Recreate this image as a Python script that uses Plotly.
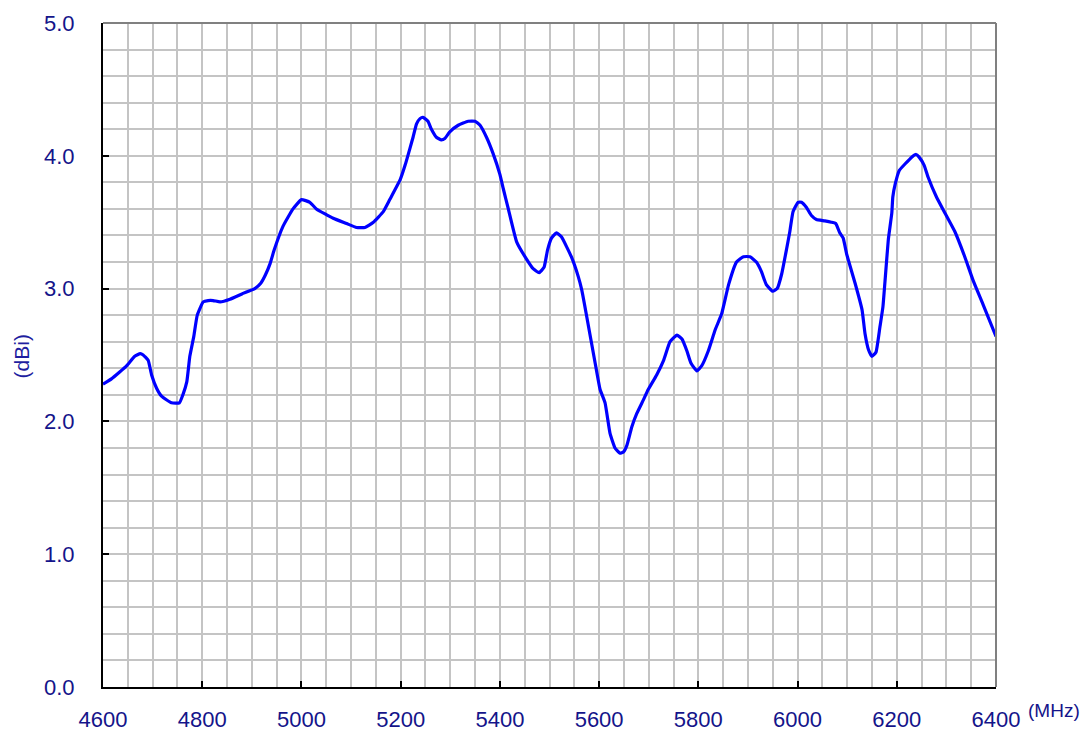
import plotly.graph_objects as go

freq_mhz = [4600, 4617, 4633, 4648, 4664, 4675, 4681, 4691, 4698, 4708, 4718, 4738, 4754, 4761,
            4769, 4775, 4783, 4790, 4802, 4812, 4822, 4836, 4856, 4880, 4906, 4918, 4927, 4937,
            4945, 4963, 4983, 5000, 5017, 5030, 5064, 5091, 5111, 5128, 5145, 5165, 5178, 5199,
            5209, 5219, 5225, 5232, 5239, 5245, 5255, 5262, 5272, 5282, 5289, 5299, 5316, 5336,
            5350, 5360, 5373, 5386, 5400, 5407, 5417, 5434, 5454, 5467, 5479, 5489, 5496, 5504,
            5514, 5524, 5544, 5558, 5565, 5575, 5592, 5602, 5612, 5622, 5632, 5642, 5649, 5656,
            5666, 5676, 5689, 5699, 5716, 5730, 5743, 5757, 5767, 5777, 5785, 5797, 5807, 5820,
            5834, 5847, 5861, 5877, 5891, 5904, 5917, 5927, 5937, 5950, 5959, 5968, 5978, 5984,
            5991, 6001, 6008, 6018, 6028, 6038, 6055, 6068, 6077, 6085, 6092, 6099, 6116, 6130,
            6136, 6143, 6150, 6158, 6166, 6172, 6177, 6183, 6190, 6192, 6197, 6205, 6217, 6230,
            6239, 6245, 6255, 6263, 6280, 6297, 6317, 6337, 6354, 6374, 6400]
gain_dbi = [2.28, 2.32, 2.37, 2.42, 2.49, 2.51, 2.50, 2.46, 2.35, 2.25, 2.19, 2.14, 2.14, 2.20,
            2.30, 2.49, 2.64, 2.80, 2.90, 2.91, 2.91, 2.90, 2.92, 2.96, 3.00, 3.04, 3.10, 3.19,
            3.29, 3.47, 3.60, 3.67, 3.65, 3.60, 3.53, 3.49, 3.46, 3.46, 3.50, 3.58, 3.67, 3.82,
            3.93, 4.06, 4.14, 4.24, 4.28, 4.29, 4.26, 4.20, 4.14, 4.12, 4.13, 4.18, 4.23, 4.26,
            4.26, 4.23, 4.14, 4.02, 3.86, 3.75, 3.60, 3.35, 3.22, 3.15, 3.12, 3.16, 3.29, 3.38,
            3.42, 3.39, 3.24, 3.09, 2.99, 2.79, 2.44, 2.24, 2.14, 1.91, 1.80, 1.76, 1.77, 1.82,
            1.96, 2.06, 2.16, 2.24, 2.35, 2.46, 2.60, 2.65, 2.62, 2.53, 2.44, 2.38, 2.42, 2.53,
            2.69, 2.81, 3.03, 3.20, 3.24, 3.24, 3.20, 3.13, 3.03, 2.98, 3.00, 3.11, 3.30, 3.42,
            3.58, 3.65, 3.65, 3.61, 3.55, 3.52, 3.51, 3.50, 3.49, 3.42, 3.38, 3.26, 3.04, 2.84,
            2.66, 2.54, 2.49, 2.52, 2.71, 2.86, 3.09, 3.37, 3.57, 3.69, 3.79, 3.89, 3.94, 3.99,
            4.01, 3.99, 3.93, 3.84, 3.69, 3.57, 3.43, 3.24, 3.06, 2.88, 2.64]

x_ticks = [4600, 4800, 5000, 5200, 5400, 5600, 5800, 6000, 6200, 6400]
y_ticks = [0.0, 1.0, 2.0, 3.0, 4.0, 5.0]

TEXT = "#14148a"
FONT = "Liberation Sans, Arial, sans-serif"

fig = go.Figure()
fig.add_trace(go.Scatter(x=freq_mhz, y=gain_dbi, mode="lines",
                         line=dict(color="#0000ff", width=3.2, shape="spline", smoothing=0.4),
                         hoverinfo="x+y"))

fig.update_layout(
    width=1091, height=734,
    margin=dict(l=103, r=95, t=23, b=47),
    paper_bgcolor="white", plot_bgcolor="white",
    showlegend=False,
    font=dict(family=FONT, color=TEXT, size=22),
    xaxis=dict(range=[4600, 6400], tickvals=x_ticks, ticktext=[str(v) for v in x_ticks],
               automargin=False,
               showgrid=True, gridcolor="#c4c4c4", gridwidth=1.5,
               minor=dict(dtick=50, showgrid=True, gridcolor="#c4c4c4", gridwidth=1.5, ticks=""),
               showline=True, linecolor="black", linewidth=2,
               ticks="inside", ticklen=6, tickwidth=1.5, tickcolor="black",
               ticklabelstandoff=12, zeroline=False,
               tickfont=dict(size=22, color=TEXT, family=FONT)),
    yaxis=dict(range=[0, 5], tickvals=y_ticks, ticktext=["%.1f" % v for v in y_ticks],
               automargin=False,
               showgrid=True, gridcolor="#c4c4c4", gridwidth=1.5,
               minor=dict(dtick=0.2, showgrid=True, gridcolor="#c4c4c4", gridwidth=1.5, ticks=""),
               showline=True, linecolor="black", linewidth=2,
               ticks="inside", ticklen=6, tickwidth=1.5, tickcolor="black",
               ticklabelstandoff=22, zeroline=False,
               tickfont=dict(size=22, color=TEXT, family=FONT)),
    shapes=[
        dict(type="line", xref="paper", yref="paper", x0=0, x1=1, y0=1, y1=1,
             line=dict(color="#808080", width=2)),
        dict(type="line", xref="paper", yref="paper", x0=1, x1=1, y0=0, y1=1,
             line=dict(color="#808080", width=2)),
    ],
    annotations=[
        dict(text="(dBi)", xref="paper", yref="paper", x=-0.0902, y=0.4985,
             xanchor="center", yanchor="middle",
             textangle=-90, showarrow=False, font=dict(size=21, color="#1e1ea0", family=FONT)),
        dict(text="(MHz)", xref="paper", yref="paper", x=1.0, y=0.0, xanchor="left",
             yanchor="top", xshift=30, yshift=-11, showarrow=False,
             font=dict(size=19, color=TEXT, family=FONT)),
    ],
)

fig.write_html("out.html", config={"displayModeBar": False},
               post_script="document.body.style.margin='0';document.body.style.overflow='hidden';")
